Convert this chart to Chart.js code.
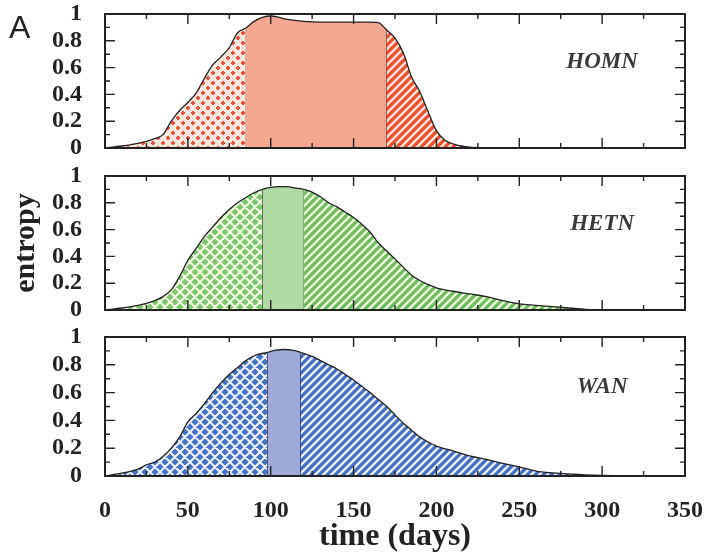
<!DOCTYPE html>
<html>
<head>
<meta charset="utf-8">
<script src="https://cdn.jsdelivr.net/npm/chart.js@4.4.1/dist/chart.umd.min.js"></script>
<style>
  body { margin: 0; background: #fff; width: 708px; height: 558px; position: relative; overflow: hidden; }
  canvas { position: absolute; left: 0; }
</style>
</head>
<body>
<canvas id="homn" width="708" height="162" style="top:0"></canvas>
<canvas id="hetn" width="708" height="160" style="top:162px"></canvas>
<canvas id="wan" width="708" height="236" style="top:322px"></canvas>
<script>
// entropy curves (day -> entropy)
var homnDays = [0, 10, 20, 25, 30, 35, 40, 45, 50, 55, 60, 65, 70, 75, 80, 85, 90, 95, 100, 105, 110, 120, 130, 140, 150, 160, 165, 170, 175, 180, 185, 190, 195, 200, 205, 210, 215, 220, 230, 250, 300, 350];
var homnEntropy = [0, 0.015, 0.035, 0.05, 0.07, 0.1, 0.2, 0.28, 0.34, 0.41, 0.52, 0.62, 0.68, 0.75, 0.86, 0.895, 0.945, 0.975, 0.985, 0.975, 0.96, 0.945, 0.94, 0.94, 0.94, 0.94, 0.935, 0.88, 0.82, 0.71, 0.53, 0.42, 0.27, 0.13, 0.06, 0.03, 0.015, 0.006, 0.002, 0, 0, 0];
var homnSplit = [85, 170];

var hetnDays = [0, 10, 20, 25, 30, 35, 40, 45, 50, 55, 60, 65, 70, 75, 80, 85, 90, 95, 100, 105, 110, 115, 120, 125, 130, 135, 140, 145, 150, 155, 160, 165, 170, 175, 180, 185, 190, 195, 200, 210, 220, 230, 240, 250, 260, 270, 280, 290, 300, 350];
var hetnEntropy = [0, 0.015, 0.035, 0.05, 0.07, 0.1, 0.15, 0.25, 0.37, 0.46, 0.55, 0.62, 0.69, 0.75, 0.8, 0.84, 0.875, 0.9, 0.915, 0.92, 0.92, 0.91, 0.9, 0.88, 0.845, 0.8, 0.77, 0.73, 0.69, 0.64, 0.58, 0.5, 0.44, 0.38, 0.32, 0.26, 0.22, 0.19, 0.165, 0.14, 0.12, 0.1, 0.07, 0.045, 0.035, 0.025, 0.015, 0.005, 0, 0];
var hetnSplit = [95, 120];

var wanDays = [0, 10, 20, 25, 30, 35, 40, 45, 50, 55, 60, 65, 70, 75, 80, 85, 90, 98, 103, 108, 113, 118, 125, 130, 135, 140, 145, 150, 155, 160, 165, 170, 175, 180, 185, 190, 195, 200, 210, 220, 230, 240, 250, 260, 270, 280, 290, 300, 320, 350];
var wanEntropy = [0, 0.02, 0.05, 0.08, 0.1, 0.14, 0.2, 0.28, 0.39, 0.45, 0.52, 0.6, 0.67, 0.73, 0.78, 0.83, 0.865, 0.89, 0.905, 0.91, 0.905, 0.89, 0.86, 0.83, 0.8, 0.77, 0.73, 0.69, 0.645, 0.6, 0.55, 0.5, 0.44, 0.38, 0.33, 0.28, 0.245, 0.215, 0.18, 0.145, 0.12, 0.09, 0.065, 0.035, 0.022, 0.015, 0.008, 0.004, 0, 0];
var wanSplit = [98, 118];

var panelNames = ['HOMN', 'HETN', 'WAN'];
var xTickValues = [0, 50, 100, 150, 200, 250, 300, 350];
var yTickValues = [0, 0.2, 0.4, 0.6, 0.8, 1];
var yTickLabels = ['0', '0.2', '0.4', '0.6', '0.8', '1'];

var tickFont = { family: 'Liberation Serif', weight: 'bold', size: 24, lineHeight: 1 };

// ---- fill patterns ----
function tile(size, draw) {
  var c = document.createElement('canvas');
  c.width = size; c.height = size;
  draw(c.getContext('2d'), size);
  return c.getContext('2d').createPattern(c, 'repeat');
}
function stripes(fg, bg) {
  return tile(8, function (g, s) {
    g.fillStyle = bg; g.fillRect(0, 0, s, s);
    g.strokeStyle = fg; g.lineWidth = 3.2;
    g.beginPath();
    for (var k = -1; k <= 1; k++) {
      g.moveTo(k * s - 1, s + 1); g.lineTo(k * s + s + 1, -1);
    }
    g.stroke();
  });
}
function weave(fg, bg) {
  return tile(10, function (g, s) {
    g.fillStyle = fg; g.fillRect(0, 0, s, s);
    g.strokeStyle = bg; g.lineWidth = 2;
    g.beginPath();
    for (var k = -1; k <= 1; k++) {
      g.moveTo(k * s, s); g.lineTo(k * s + s, 0);
      g.moveTo(k * s, 0); g.lineTo(k * s + s, s);
    }
    g.stroke();
  });
}
function dots(fg, bg) {
  return tile(10, function (g, s) {
    g.fillStyle = bg; g.fillRect(0, 0, s, s);
    g.fillStyle = fg;
    g.fillRect(1, 2, 4, 2); g.fillRect(2, 1, 2, 4);
    g.fillRect(6, 7, 4, 2); g.fillRect(7, 6, 2, 4);
  });
}

var homnFills = [dots('#e9533c', '#fce7de'), '#f6a78f', stripes('#e8502e', '#fce4da')];
var hetnFills = [weave('#7cc66c', '#f4fbe2'), '#b0daa3', stripes('#6cbd5c', '#f3fae2')];
var wanFills = [weave('#4372c6', '#eef0fa'), '#9ea9d9', stripes('#3f6fc4', '#f1ecf7')];

// frame, inside ticks and panel labels
var framePlugin = {
  id: 'frame',
  afterDatasetsDraw: function (chart, args, opts) {
    var ctx = chart.ctx, a = chart.chartArea, x = chart.scales.x, y = chart.scales.y;
    ctx.save();
    ctx.strokeStyle = '#222';
    ctx.lineWidth = 1.4;
    ctx.beginPath();
    for (var v = 25; v < 350; v += 25) {
      var px = x.getPixelForValue(v);
      var len = v % 50 === 0 ? 10 : 5;
      ctx.moveTo(px, a.top); ctx.lineTo(px, a.top + len);
      ctx.moveTo(px, a.bottom); ctx.lineTo(px, a.bottom - len);
    }
    for (var i = 1; i < 10; i++) {
      var py = y.getPixelForValue(i / 10);
      var l = i % 2 === 0 ? 10 : 5;
      ctx.moveTo(a.left, py); ctx.lineTo(a.left + l, py);
      ctx.moveTo(a.right, py); ctx.lineTo(a.right - l, py);
    }
    ctx.stroke();
    ctx.lineWidth = 2;
    ctx.strokeRect(a.left, a.top, a.right - a.left, a.bottom - a.top);

    ctx.fillStyle = '#3a3a3a';
    ctx.font = 'italic bold 23px "Liberation Serif"';
    ctx.textAlign = 'center';
    ctx.textBaseline = 'middle';
    ctx.fillText(opts.name, x.getPixelForValue(300), y.getPixelForValue(0.64));
    if (opts.letter) {
      ctx.font = '32px "Liberation Sans"';
      ctx.textAlign = 'left';
      ctx.textBaseline = 'alphabetic';
      ctx.fillStyle = '#222';
      ctx.fillText(opts.letter, 9, 38);
    }
    ctx.restore();
  }
};

function noPad(s) { s.paddingTop = 0; s.paddingBottom = 0; s.paddingLeft = 0; s.paddingRight = 0; }

function makePanel(id, days, values, split, fills, cfg) {
  var points = days.map(function (d, i) { return { x: d, y: values[i] }; });
  var datasets = [{
    data: points,
    borderColor: '#222',
    borderWidth: 1.3,
    pointRadius: 0,
    cubicInterpolationMode: 'monotone',
    fill: 'origin',
    backgroundColor: fills[1],
    segment: {
      backgroundColor: function (c) {
        var x0 = c.p0.parsed.x;
        return x0 < split[0] ? fills[0] : (x0 < split[1] ? fills[1] : fills[2]);
      }
    }
  }];
  split.forEach(function (b) {
    var v = values[days.indexOf(b)];
    datasets.push({
      data: [{ x: b, y: 0 }, { x: b, y: v }],
      borderColor: '#111',
      borderWidth: 1.5,
      pointRadius: 0,
      tension: 0,
      fill: false
    });
  });

  return new Chart(document.getElementById(id), {
    type: 'line',
    data: { datasets: datasets },
    options: {
      responsive: false,
      animation: false,
      layout: { padding: { top: cfg.top, right: 23, left: 0, bottom: 0 } },
      plugins: {
        legend: { display: false },
        tooltip: { enabled: false },
        frame: { name: cfg.name, letter: cfg.letter }
      },
      scales: {
        x: {
          type: 'linear',
          min: 0, max: 350,
          afterBuildTicks: function (s) { s.ticks = xTickValues.map(function (v) { return { value: v }; }); },
          afterFit: function (s) { s.height = cfg.xHeight; noPad(s); },
          grid: { display: false },
          border: { display: false },
          ticks: { display: cfg.xLabels, font: tickFont, color: '#222', padding: 15, maxRotation: 0, autoSkip: false },
          title: {
            display: cfg.xLabels,
            text: 'time (days)',
            font: { family: 'Liberation Serif', weight: 'bold', size: 32 },
            color: '#222',
            padding: { top: 0, bottom: 2 }
          }
        },
        y: {
          min: 0, max: 1,
          afterBuildTicks: function (s) { s.ticks = yTickValues.map(function (v) { return { value: v }; }); },
          afterFit: function (s) { s.width = 105; noPad(s); },
          grid: { display: false },
          border: { display: false },
          ticks: {
            font: tickFont, color: '#222', padding: 15, autoSkip: false,
            callback: function (v, i) { return yTickLabels[i]; }
          },
          title: {
            display: cfg.yTitle,
            text: 'entropy',
            font: { family: 'Liberation Serif', weight: 'bold', size: 30 },
            color: '#222',
            padding: { top: 8, bottom: 0 }
          }
        }
      }
    },
    plugins: [framePlugin]
  });
}

makePanel('homn', homnDays, homnEntropy, homnSplit, homnFills,
  { name: panelNames[0], letter: 'A', top: 14, xHeight: 14, xLabels: false, yTitle: false });
makePanel('hetn', hetnDays, hetnEntropy, hetnSplit, hetnFills,
  { name: panelNames[1], top: 14, xHeight: 12, xLabels: false, yTitle: true });
makePanel('wan', wanDays, wanEntropy, wanSplit, wanFills,
  { name: panelNames[2], top: 15, xHeight: 82, xLabels: true, yTitle: false });
</script>
</body>
</html>
